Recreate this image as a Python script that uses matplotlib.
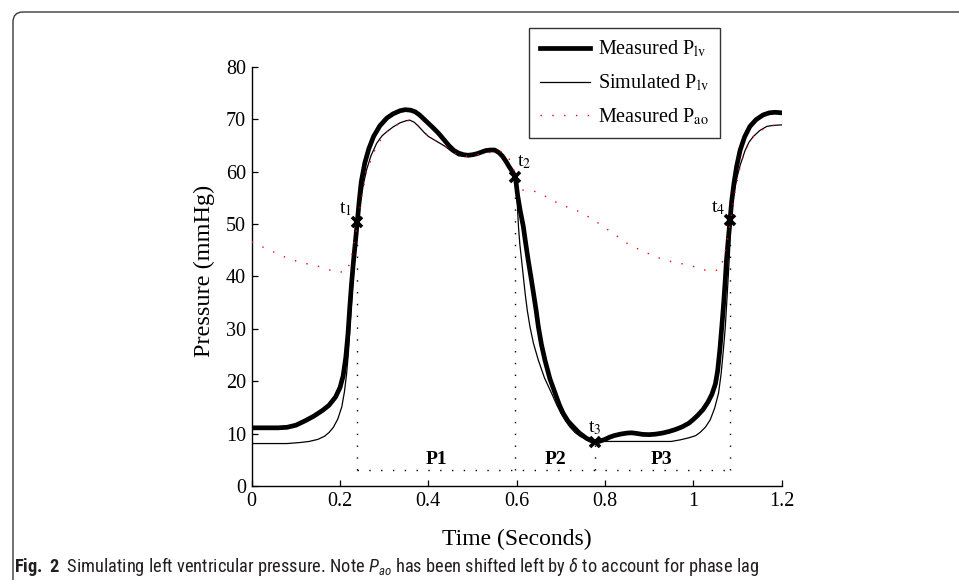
import matplotlib
matplotlib.use("Agg")
import matplotlib.pyplot as plt
from matplotlib.path import Path
from matplotlib.patches import PathPatch

# ---------------- data ----------------
meas_lv_t = [0, 0.06, 0.08, 0.10, 0.12, 0.14, 0.16, 0.175, 0.19, 0.20, 0.207, 0.213,
             0.218, 0.222, 0.226, 0.230, 0.235, 0.239, 0.243, 0.248, 0.256, 0.265,
             0.276, 0.29, 0.306, 0.32, 0.336, 0.348, 0.36, 0.37, 0.38, 0.39, 0.40,
             0.41, 0.423, 0.435, 0.447, 0.458, 0.469, 0.48, 0.49, 0.50, 0.51, 0.52,
             0.53, 0.54, 0.55, 0.56, 0.568, 0.576, 0.583, 0.59, 0.597, 0.602, 0.608,
             0.615, 0.62, 0.626, 0.632, 0.638, 0.644, 0.649, 0.656, 0.664, 0.675,
             0.687, 0.696, 0.705, 0.716, 0.728, 0.742, 0.758, 0.777, 0.79, 0.80,
             0.81, 0.82, 0.835, 0.85, 0.86, 0.87, 0.885, 0.90, 0.915, 0.93, 0.945,
             0.96, 0.975, 0.99, 1.00, 1.01, 1.022, 1.033, 1.042, 1.05, 1.055, 1.06,
             1.064, 1.068, 1.072, 1.075, 1.079, 1.083, 1.087, 1.092, 1.098, 1.106,
             1.116, 1.128, 1.142, 1.158, 1.172, 1.185, 1.2]
meas_lv_p = [11.1, 11.1, 11.2, 11.6, 12.4, 13.3, 14.4, 15.4, 17.0, 18.8, 21.0, 24.5,
             29.0, 34.0, 38.5, 42.5, 46.8, 50.3, 54.0, 58.0, 61.6, 64.3,
             66.7, 68.7, 70.2, 71.0, 71.6, 71.8, 71.7, 71.4, 70.8, 70.0, 69.2,
             68.4, 67.3, 66.1, 64.9, 64.0, 63.5, 63.2, 63.1, 63.2, 63.4, 63.7,
             64.0, 64.1, 64.1, 63.6, 62.9, 61.9, 60.9, 60.0, 59.0, 55.5, 52.5,
             49.5, 46.5, 43.1, 40.0, 36.8, 33.5, 30.4, 27.0, 24.0, 20.5,
             17.7, 15.6, 13.9, 12.4, 11.3, 10.1, 9.1, 8.3, 8.6, 8.9,
             9.3, 9.6, 9.9, 10.1, 10.15, 10.05, 9.85, 9.8, 9.9, 10.1, 10.4,
             10.8, 11.3, 12.0, 12.7, 13.5, 14.6, 16.0, 17.5, 19.5, 22.0, 26.0,
             30.0, 34.2, 39.0, 43.1, 47.0, 50.8, 54.5, 57.8, 61.0, 64.1,
             66.6, 68.6, 69.9, 70.8, 71.2, 71.3, 71.2]

sim_lv_t = [0, 0.08, 0.11, 0.13, 0.15, 0.165, 0.175, 0.185, 0.195, 0.204, 0.21, 0.215,
            0.219, 0.222, 0.226, 0.230, 0.234, 0.238, 0.242, 0.247, 0.253, 0.260,
            0.27, 0.283, 0.295, 0.306, 0.32, 0.336, 0.35, 0.358, 0.368, 0.378, 0.39,
            0.40, 0.42, 0.438, 0.453, 0.468, 0.48, 0.49, 0.50, 0.51, 0.52, 0.53,
            0.54, 0.55, 0.56, 0.568, 0.576, 0.583, 0.59, 0.597, 0.600, 0.604, 0.607,
            0.611, 0.615, 0.619, 0.624, 0.630, 0.638, 0.649, 0.663, 0.679, 0.69,
            0.700, 0.71, 0.72, 0.732, 0.745, 0.76, 0.777, 0.80, 0.85, 0.90, 0.95,
            0.97, 0.99, 1.005, 1.015, 1.027, 1.038, 1.048, 1.057, 1.063, 1.068,
            1.072, 1.075, 1.078, 1.081, 1.084, 1.088, 1.092, 1.099, 1.106, 1.117,
            1.126, 1.136, 1.15, 1.166, 1.18, 1.2]
sim_lv_p = [8.1, 8.1, 8.3, 8.5, 8.9, 9.5, 10.2, 11.2, 12.8, 15.1, 18.0, 21.5,
            25.5, 29.7, 35.0, 39.9, 44.5, 48.2, 51.5, 54.6, 57.6, 60.3,
            63.0, 65.4, 66.8, 67.6, 68.5, 69.3, 69.7, 69.8, 69.4, 68.6, 67.5,
            66.7, 65.7, 64.8, 63.8, 63.0, 62.9, 63.0, 63.2, 63.4, 63.7, 64.0,
            64.1, 64.0, 63.5, 62.7, 61.7, 60.7, 59.6, 58.0, 55.9, 49.5, 46.2,
            43.1, 40.0, 36.8, 33.5, 30.4, 27.2, 24.0, 20.6, 17.7, 15.6,
            13.9, 12.5, 11.3, 10.2, 9.4, 8.9, 8.6, 8.5, 8.5, 8.5, 8.5,
            8.8, 9.2, 9.6, 10.2, 11.2, 12.6, 14.8, 17.7, 21.5, 26.0,
            30.0, 34.2, 38.5, 43.1, 48.5, 53.0, 56.0, 59.0, 61.2, 64.0,
            65.6, 66.7, 67.8, 68.6, 68.8, 68.9]

meas_ao_t = [0, 0.04, 0.08, 0.109, 0.136, 0.161, 0.187, 0.213, 0.224, 0.232, 0.240,
             0.250, 0.260, 0.283, 0.306, 0.336, 0.358, 0.380, 0.400, 0.440, 0.470,
             0.500, 0.530, 0.560, 0.580, 0.590, 0.600, 0.608, 0.641, 0.667, 0.690,
             0.715, 0.740, 0.764, 0.786, 0.808, 0.830, 0.850, 0.880, 0.925, 0.955,
             0.981, 1.008, 1.034, 1.059, 1.068, 1.075, 1.085, 1.095, 1.106, 1.117,
             1.136, 1.166, 1.196]
meas_ao_p = [46.6, 45.0, 43.5, 42.7, 42.2, 41.7, 40.9, 40.8, 42.8, 46.5, 50.3,
             55.5, 60.0, 65.0, 67.6, 69.3, 69.8, 68.6, 66.7, 64.8, 62.8,
             63.0, 63.5, 64.0, 63.0, 61.0, 59.0, 56.5, 56.2, 55.2, 54.1,
             53.2, 52.4, 51.3, 50.1, 48.8, 47.5, 46.3, 45.0, 43.4, 42.7,
             42.3, 41.7, 41.0, 41.2, 43.3, 45.8, 51.0, 56.5, 60.9, 64.1,
             66.7, 68.6, 68.9]

event_t = [0.239, 0.597, 0.777, 1.083]
event_p = [50.3, 59.0, 8.3, 50.8]
event_labels = ["t$_{1}$", "t$_{2}$", "t$_{3}$", "t$_{4}$"]
phase_labels = ["P1", "P2", "P3"]
phase_x = [0.419, 0.687, 0.928]
baseline_p = 3.0

x_ticks = [0, 0.2, 0.4, 0.6, 0.8, 1.0, 1.2]
x_ticklabels = ["0", "0.2", "0.4", "0.6", "0.8", "1", "1.2"]
y_ticks = [0, 10, 20, 30, 40, 50, 60, 70, 80]

# ---------------- figure ----------------
W, H = 959, 580
fig = plt.figure(figsize=(W / 100, H / 100), dpi=100)
serif = "Liberation Serif"
plt.rcParams["font.family"] = [serif, "DejaVu Serif"]

ax = fig.add_axes([251.7 / W, 1 - 486 / H, 530 / W, 419.3 / H])
ax.set_xlim(0, 1.2)
ax.set_ylim(0, 80)

l1, = ax.plot(meas_lv_t, meas_lv_p, color="black", lw=3.4, solid_joinstyle="round",
              label="Measured P$_{\\rm lv}$", zorder=4)
l2, = ax.plot(sim_lv_t, sim_lv_p, color="black", lw=0.9,
              label="Simulated P$_{\\rm lv}$", zorder=5)
l3, = ax.plot(meas_ao_t, meas_ao_p, color="red", lw=1.0, linestyle=(0, (1, 7.5)),
              label="Measured P$_{\\rm ao}$", zorder=6)

# event markers and dotted guide lines
dot = (0, (1, 7.5))
for t, p in zip(event_t, event_p):
    ax.plot([t, t], [baseline_p, p], color="black", lw=1.0, linestyle=dot, zorder=3)
ax.plot([event_t[0], event_t[-1]], [baseline_p, baseline_p], color="black", lw=1.0,
        linestyle=dot, zorder=3)
ax.plot(event_t, event_p, linestyle="none", marker="x", color="black", ms=7, mew=2.6, zorder=7)

lab_kw = dict(fontsize=14, family=serif, math_fontfamily="stix")
ax.text(event_t[0] - 0.012, event_p[0] + 2.5, event_labels[0], ha="right", va="center", **lab_kw)
ax.text(event_t[1] + 0.003, event_p[1] + 2.7, event_labels[1], ha="left", va="center", **lab_kw)
ax.text(event_t[2], event_p[2] + 2.8, event_labels[2], ha="center", va="center", **lab_kw)
ax.text(event_t[3] - 0.010, event_p[3] + 2.3, event_labels[3], ha="right", va="center", **lab_kw)

for lbl, x in zip(phase_labels, phase_x):
    ax.text(x, 5.0, lbl, ha="center", va="center", fontsize=14, fontweight="bold", family=serif)

# axes styling (MATLAB-like, box off)
ax.spines["top"].set_visible(False)
ax.spines["right"].set_visible(False)
for s in ("left", "bottom"):
    ax.spines[s].set_linewidth(1.0)
ax.set_xticks(x_ticks)
ax.set_xticklabels(x_ticklabels)
ax.set_yticks(y_ticks)
ax.tick_params(direction="in", length=4, width=0.9, labelsize=14.5, pad=4)
for lab in ax.get_xticklabels() + ax.get_yticklabels():
    lab.set_family(serif)
ax.set_xlabel("Time (Seconds)", fontsize=17, family=serif, labelpad=13)
ax.set_ylabel("Pressure (mmHg)", fontsize=17.5, family=serif)
ax.yaxis.set_label_coords(-0.069, 0.513)

leg = fig.legend(handles=[l1, l2, l3], loc="upper right",
                 bbox_to_anchor=(720 / W, 1 - 28 / H), bbox_transform=fig.transFigure,
                 borderaxespad=0, frameon=True, fancybox=False, handlelength=2.5,
                 handletextpad=0.4, labelspacing=0.65, borderpad=0.55,
                 prop=dict(family=serif, size=14.5, math_fontfamily="stix"))
leg.get_frame().set_edgecolor("black")
leg.get_frame().set_linewidth(1.0)

# figure frame with rounded top-left corner
x0, y0, r = 13 / W, 1 - 12 / H, 10
verts = [(x0, 0.0), (x0, 1 - (12 + r) / H), (x0, y0), ((13 + r) / W, y0), (1.0, y0)]
codes = [Path.MOVETO, Path.LINETO, Path.CURVE3, Path.CURVE3, Path.LINETO]
fig.add_artist(PathPatch(Path(verts, codes), transform=fig.transFigure, fill=False,
                         edgecolor="#3a3a3a", lw=1.0))

cap_font = "Roboto Condensed"
plt.rcParams["mathtext.fontset"] = "custom"
plt.rcParams["mathtext.rm"] = cap_font
plt.rcParams["mathtext.it"] = cap_font + ":italic"
plt.rcParams["mathtext.bf"] = cap_font + ":bold"
fig.text(14 / W, 1 - 567 / H,
         r"$\mathbf{Fig.\ 2}$  Simulating left ventricular pressure. Note $P_{ao}$ has been shifted left by $\delta$ to account for phase lag",
         fontsize=13.2, family=cap_font, math_fontfamily="custom", ha="left", va="center",
         color="#231f20")

fig.savefig("out.png", dpi=100)
